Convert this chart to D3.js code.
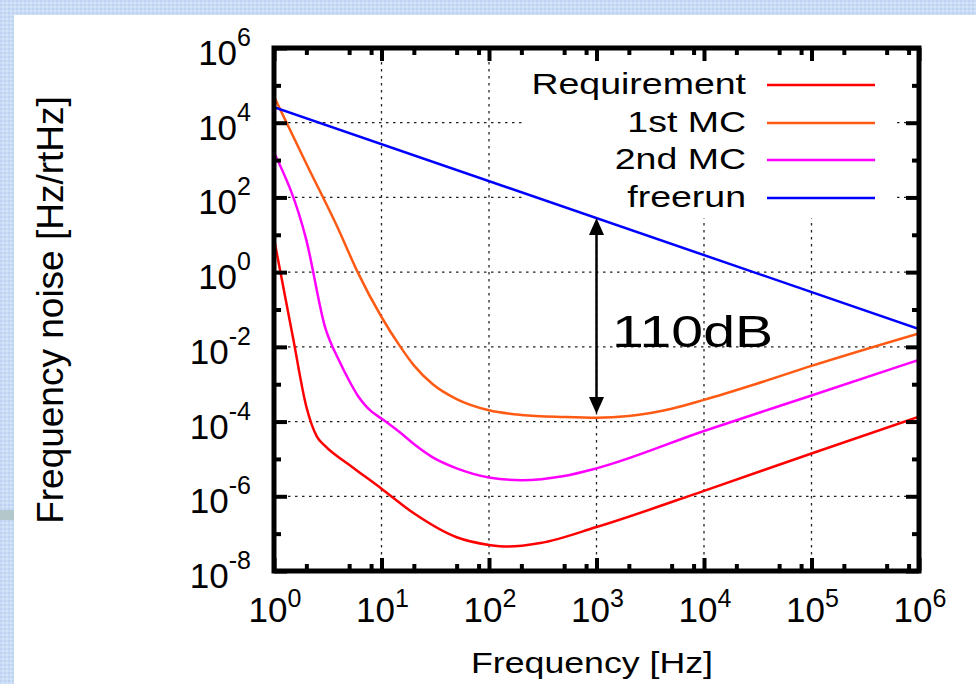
<!DOCTYPE html>
<html>
<head>
<meta charset="utf-8">
<script src="https://cdn.jsdelivr.net/npm/d3@7"></script>
<style>
  body { margin: 0; background: #fff; }
  svg { display: block; }
  text { font-family: "Liberation Sans", Arial, sans-serif; fill: #000; }
</style>
</head>
<body>
<svg id="chart" width="976" height="684"></svg>
<script>
// --- data ---
const seriesNames = ["Requirement", "1st MC", "2nd MC", "freerun"];
const seriesColors = ["#ff0000", "#ff5a14", "#ff00ff", "#0000ff"];

const reqFreq = [1, 1.5, 2, 2.5, 3, 5, 10, 20, 50, 100, 150, 300, 1e3, 1e4, 1e5, 1e6];
const reqNoise = [7.9, 1.8e-2, 2.5e-4, 4e-5, 2.2e-5, 7e-6, 1.6e-6, 3.5e-7, 8e-8, 5e-8, 4.5e-8, 5.6e-8, 1.5e-7, 1.4e-6, 1.4e-5, 1.35e-4];

const mc1Freq = [1, 2, 4, 6, 10, 15, 20, 30, 50, 100, 200, 500, 1e3, 2e3, 5e3, 1e4, 3e4, 1e5, 1e6];
const mc1Noise = [5e4, 800, 13.5, 1, 6.3e-2, 1e-2, 3.2e-3, 1e-3, 4e-4, 2e-4, 1.5e-4, 1.32e-4, 1.26e-4, 1.4e-4, 2.2e-4, 3.8e-4, 1e-3, 3.1e-3, 2.3e-2];

const mc2Freq = [1, 2, 3, 4, 5, 6, 7, 8, 10, 15, 20, 30, 50, 100, 200, 500, 1e3, 1e4, 1e5, 1e6];
const mc2Noise = [1.6e3, 7.2, 3.2e-2, 4.5e-3, 1.25e-3, 5e-4, 2.8e-4, 1.9e-4, 1.2e-4, 5e-5, 2.5e-5, 1.1e-5, 5.6e-6, 3.2e-6, 2.7e-6, 3.5e-6, 5.6e-6, 5.6e-5, 5e-4, 4.5e-3];

const freeFreq = [1, 1e6];
const freeNoise = [2.6e4, 3e-2];

const xMajor = [1, 10, 100, 1e3, 1e4, 1e5, 1e6];
const xMinorMult = [2, 5, 8];
const yMajor = [1e-8, 1e-6, 1e-4, 1e-2, 1, 1e2, 1e4, 1e6];
const yMinor = [1e-7, 1e-5, 1e-3, 1e-1, 10, 1e3, 1e5];

const arrowFreq = 1000, arrowTop = 28, arrowBottom = 1.6e-4;
const arrowLabel = "110dB";

// --- layout ---
const svg = d3.select("#chart");
const L = 274, R = 919, T = 48, B = 571;
const x = d3.scaleLog().domain([1, 1e6]).range([L, R]);
const y = d3.scaleLog().domain([1e-8, 1e6]).range([B, T]);

// slide background
const defs = svg.append("defs");
const pat = defs.append("pattern").attr("id", "tex").attr("width", 4).attr("height", 4)
  .attr("patternUnits", "userSpaceOnUse");
pat.append("rect").attr("width", 4).attr("height", 4).attr("fill", "#cadcf5");
pat.append("rect").attr("width", 2).attr("height", 2).attr("fill", "#bdd2f0");
pat.append("rect").attr("x", 2).attr("y", 2).attr("width", 2).attr("height", 2).attr("fill", "#d4e4f8");

svg.append("rect").attr("width", 976).attr("height", 684).attr("fill", "#fff");
svg.append("rect").attr("width", 976).attr("height", 15).attr("fill", "url(#tex)");
svg.append("rect").attr("width", 14).attr("height", 684).attr("fill", "url(#tex)");
svg.append("rect").attr("y", 510).attr("width", 14).attr("height", 10).attr("fill", "#b4c8cc");

// grid
const grid = svg.append("g").attr("stroke", "#222").attr("stroke-width", 1.3)
  .attr("stroke-dasharray", "2.5,4.5");
xMajor.slice(1, -1).forEach(v => {
  grid.append("line").attr("x1", x(v)).attr("x2", x(v)).attr("y1", T).attr("y2", B);
});
yMajor.slice(1, -1).forEach(v => {
  grid.append("line").attr("x1", L).attr("x2", R).attr("y1", y(v)).attr("y2", y(v));
});

// legend background hides the grid
svg.append("rect").attr("x", 525).attr("y", 62).attr("width", 370).attr("height", 156).attr("fill", "#fff");

// curves
const line = d3.line().x(d => x(d[0])).y(d => y(d[1])).curve(d3.curveMonotoneX);
const series = [
  d3.zip(reqFreq, reqNoise),
  d3.zip(mc1Freq, mc1Noise),
  d3.zip(mc2Freq, mc2Noise),
  d3.zip(freeFreq, freeNoise)
];
const plot = svg.append("g");
plot.append("clipPath").attr("id", "clip").append("rect")
  .attr("x", L).attr("y", T).attr("width", R - L).attr("height", B - T);
series.forEach((s, i) => {
  plot.append("path").attr("d", line(s)).attr("fill", "none")
    .attr("stroke", seriesColors[i]).attr("stroke-width", 2.5)
    .attr("clip-path", "url(#clip)");
});

// 110dB arrow
const ax = x(arrowFreq), ay1 = y(arrowTop), ay2 = y(arrowBottom);
svg.append("line").attr("x1", ax).attr("x2", ax).attr("y1", ay1 + 10).attr("y2", ay2 - 10)
  .attr("stroke", "#000").attr("stroke-width", 2.5);
svg.append("path").attr("d", `M${ax},${ay1} L${ax - 7.5},${ay1 + 17} L${ax + 7.5},${ay1 + 17} Z`);
svg.append("path").attr("d", `M${ax},${ay2} L${ax - 7.5},${ay2 - 17} L${ax + 7.5},${ay2 - 17} Z`);
svg.append("g").attr("transform", "translate(612,347) scale(1.3,1)")
  .append("text").attr("font-size", 44).text(arrowLabel);

// ticks with d3 axes (inward), frame drawn on top
const xMinor = [];
xMajor.slice(0, -1).forEach(d => xMinorMult.forEach(m => xMinor.push(d * m)));
function ticks(axis, tx, ty) {
  const g = svg.append("g").attr("transform", `translate(${tx},${ty})`).call(axis);
  g.select(".domain").remove();
  g.selectAll("line").attr("stroke", "#000").attr("stroke-width", 4);
}
ticks(d3.axisBottom(x).tickValues(xMajor).tickSize(-13).tickFormat(""), 0, B);
ticks(d3.axisBottom(x).tickValues(xMinor).tickSize(-7).tickFormat(""), 0, B);
ticks(d3.axisTop(x).tickValues(xMajor).tickSize(-13).tickFormat(""), 0, T);
ticks(d3.axisTop(x).tickValues(xMinor).tickSize(-7).tickFormat(""), 0, T);
ticks(d3.axisLeft(y).tickValues(yMajor).tickSize(-13).tickFormat(""), L, 0);
ticks(d3.axisLeft(y).tickValues(yMinor).tickSize(-7).tickFormat(""), L, 0);
ticks(d3.axisRight(y).tickValues(yMajor).tickSize(-13).tickFormat(""), R, 0);
ticks(d3.axisRight(y).tickValues(yMinor).tickSize(-7).tickFormat(""), R, 0);

svg.append("rect").attr("x", L).attr("y", T).attr("width", R - L).attr("height", B - T)
  .attr("fill", "none").attr("stroke", "#000").attr("stroke-width", 5);

// tick labels 10^n
xMajor.forEach(v => {
  const t = svg.append("text").attr("x", x(v) + 1).attr("y", 622)
    .attr("text-anchor", "middle").attr("font-size", 35).text("10");
  t.append("tspan").attr("dy", -15).attr("font-size", 25).text(Math.round(Math.log10(v)));
});
yMajor.forEach(v => {
  const t = svg.append("text").attr("x", 251).attr("y", y(v) + 17)
    .attr("text-anchor", "end").attr("font-size", 35).text("10");
  t.append("tspan").attr("dy", -19).attr("font-size", 25).text(Math.round(Math.log10(v)));
});

// axis titles
svg.append("g").attr("transform", "translate(592,673) scale(1.19,1)")
  .append("text").attr("text-anchor", "middle").attr("font-size", 30).text("Frequency [Hz]");
svg.append("text").attr("transform", "translate(63,310) rotate(-90)")
  .attr("text-anchor", "middle").attr("font-size", 37).text("Frequency noise [Hz/rtHz]");

// legend
const rowY = [85, 123, 160, 198];
seriesNames.forEach((name, i) => {
  svg.append("g").attr("transform", `translate(746,${rowY[i] + 9}) scale(1.25,1)`)
    .append("text").attr("text-anchor", "end").attr("font-size", 30).text(name);
  svg.append("line").attr("x1", 767).attr("x2", 875).attr("y1", rowY[i]).attr("y2", rowY[i])
    .attr("stroke", seriesColors[i]).attr("stroke-width", 2.5);
});
</script>
</body>
</html>
